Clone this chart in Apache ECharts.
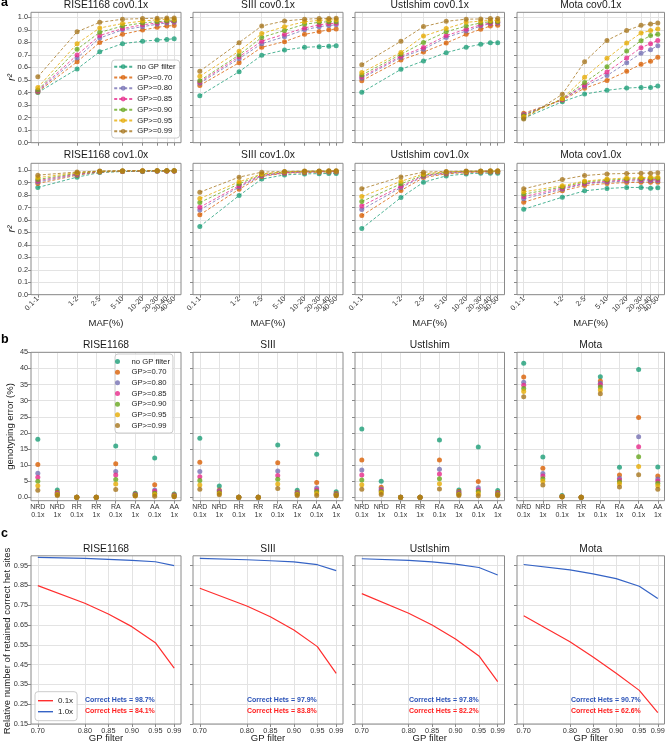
<!DOCTYPE html>
<html><head><meta charset="utf-8">
<script src="https://cdn.jsdelivr.net/npm/echarts@6/dist/echarts.min.js"></script>
<style>html,body{margin:0;padding:0;background:#fff}#c{width:667px;height:743px}</style>
</head><body><div id="c"></div>
<script>
const FONT = '"Liberation Sans", Arial, Helvetica, sans-serif';

// ---------- shared labels ----------
const samples = ['RISE1168', 'SIII', 'UstIshim', 'Mota'];
const filterLabels = ['no GP filter', 'GP>=0.70', 'GP>=0.80', 'GP>=0.85', 'GP>=0.90', 'GP>=0.95', 'GP>=0.99'];
const mafLabels = ['0.1-1', '1-2', '2-5', '5-10', '10-20', '20-30', '30-40', '40-50'];
const mafAxisPos = [0, 0.288, 0.454, 0.621, 0.768, 0.875, 0.946, 1.0];
const r2Ticks = [0, 0.1, 0.2, 0.3, 0.4, 0.5, 0.6, 0.7, 0.8, 0.9, 1.0];
const errCats = ['NRD 0.1x', 'NRD 1x', 'RR 0.1x', 'RR 1x', 'RA 0.1x', 'RA 1x', 'AA 0.1x', 'AA 1x'];
const errTicks = [0, 5, 10, 15, 20, 25, 30, 35, 40, 45];
const gpFilter = [0.70, 0.80, 0.85, 0.90, 0.95, 0.99];
const hetTicks = [0.15, 0.25, 0.35, 0.45, 0.55, 0.65, 0.75, 0.85, 0.95];

// ---------- panel a : r2 by MAF, rows = filters ----------
const r2_RISE1168_cov01 = [
  [0.400, 0.588, 0.726, 0.790, 0.809, 0.819, 0.824, 0.829],
  [0.405, 0.645, 0.800, 0.865, 0.898, 0.920, 0.930, 0.935],
  [0.410, 0.675, 0.835, 0.900, 0.925, 0.945, 0.955, 0.960],
  [0.415, 0.700, 0.855, 0.910, 0.940, 0.955, 0.965, 0.968],
  [0.420, 0.745, 0.880, 0.930, 0.955, 0.965, 0.970, 0.975],
  [0.440, 0.790, 0.915, 0.950, 0.970, 0.980, 0.985, 0.985],
  [0.525, 0.885, 0.960, 0.985, 0.990, 0.993, 0.995, 0.995]];
const r2_SIII_cov01 = [
  [0.375, 0.566, 0.697, 0.739, 0.761, 0.766, 0.769, 0.774],
  [0.457, 0.638, 0.761, 0.806, 0.864, 0.886, 0.900, 0.907],
  [0.475, 0.670, 0.790, 0.845, 0.900, 0.925, 0.935, 0.940],
  [0.485, 0.685, 0.810, 0.865, 0.915, 0.940, 0.950, 0.952],
  [0.495, 0.700, 0.840, 0.895, 0.945, 0.960, 0.965, 0.965],
  [0.530, 0.730, 0.870, 0.925, 0.965, 0.975, 0.980, 0.980],
  [0.570, 0.798, 0.931, 0.971, 0.985, 0.990, 0.990, 0.992]];
const r2_UstIshim_cov01 = [
  [0.402, 0.585, 0.652, 0.718, 0.761, 0.785, 0.798, 0.798],
  [0.495, 0.660, 0.723, 0.795, 0.864, 0.904, 0.931, 0.936],
  [0.515, 0.680, 0.745, 0.840, 0.890, 0.930, 0.950, 0.955],
  [0.525, 0.690, 0.760, 0.855, 0.905, 0.940, 0.955, 0.960],
  [0.540, 0.705, 0.800, 0.885, 0.930, 0.955, 0.965, 0.965],
  [0.560, 0.720, 0.850, 0.910, 0.960, 0.970, 0.975, 0.975],
  [0.622, 0.809, 0.926, 0.968, 0.985, 0.987, 0.990, 0.990]];
const r2_Mota_cov01 = [
  [0.195, 0.327, 0.388, 0.418, 0.436, 0.441, 0.441, 0.452],
  [0.235, 0.340, 0.434, 0.497, 0.569, 0.625, 0.649, 0.681],
  [0.225, 0.345, 0.450, 0.535, 0.638, 0.713, 0.742, 0.774],
  [0.220, 0.345, 0.460, 0.564, 0.676, 0.758, 0.790, 0.816],
  [0.215, 0.350, 0.480, 0.606, 0.731, 0.814, 0.854, 0.864],
  [0.205, 0.350, 0.521, 0.673, 0.795, 0.875, 0.894, 0.907],
  [0.190, 0.386, 0.646, 0.816, 0.894, 0.936, 0.947, 0.955]];
const r2_RISE1168_cov10 = [
  [0.861, 0.944, 0.981, 0.989, 0.990, 0.992, 0.993, 0.993],
  [0.893, 0.960, 0.985, 0.990, 0.991, 0.993, 0.993, 0.993],
  [0.905, 0.965, 0.987, 0.991, 0.992, 0.994, 0.994, 0.994],
  [0.915, 0.970, 0.988, 0.992, 0.993, 0.994, 0.994, 0.994],
  [0.925, 0.975, 0.990, 0.993, 0.994, 0.995, 0.995, 0.995],
  [0.940, 0.980, 0.991, 0.994, 0.995, 0.995, 0.995, 0.995],
  [0.960, 0.985, 0.993, 0.995, 0.996, 0.996, 0.996, 0.996]];
const r2_SIII_cov10 = [
  [0.547, 0.796, 0.928, 0.962, 0.970, 0.972, 0.973, 0.973],
  [0.641, 0.847, 0.950, 0.975, 0.980, 0.983, 0.985, 0.985],
  [0.681, 0.865, 0.955, 0.978, 0.985, 0.987, 0.988, 0.988],
  [0.702, 0.875, 0.960, 0.980, 0.987, 0.989, 0.990, 0.990],
  [0.740, 0.890, 0.965, 0.985, 0.990, 0.991, 0.992, 0.992],
  [0.772, 0.906, 0.970, 0.987, 0.991, 0.992, 0.993, 0.993],
  [0.823, 0.944, 0.984, 0.990, 0.993, 0.994, 0.995, 0.995]];
const r2_UstIshim_cov10 = [
  [0.531, 0.780, 0.903, 0.954, 0.970, 0.976, 0.976, 0.976],
  [0.635, 0.836, 0.940, 0.970, 0.980, 0.985, 0.985, 0.985],
  [0.684, 0.860, 0.950, 0.975, 0.985, 0.987, 0.988, 0.988],
  [0.713, 0.870, 0.955, 0.980, 0.988, 0.989, 0.990, 0.990],
  [0.748, 0.890, 0.960, 0.983, 0.990, 0.991, 0.992, 0.992],
  [0.788, 0.910, 0.970, 0.987, 0.990, 0.992, 0.993, 0.993],
  [0.850, 0.946, 0.984, 0.990, 0.993, 0.994, 0.995, 0.995]];
const r2_Mota_cov10 = [
  [0.686, 0.783, 0.834, 0.853, 0.861, 0.861, 0.855, 0.858],
  [0.743, 0.834, 0.877, 0.893, 0.900, 0.903, 0.903, 0.903],
  [0.770, 0.847, 0.890, 0.905, 0.912, 0.915, 0.915, 0.915],
  [0.788, 0.855, 0.895, 0.912, 0.920, 0.925, 0.925, 0.925],
  [0.807, 0.865, 0.905, 0.920, 0.928, 0.933, 0.935, 0.935],
  [0.826, 0.875, 0.912, 0.928, 0.937, 0.940, 0.943, 0.943],
  [0.850, 0.925, 0.957, 0.970, 0.973, 0.976, 0.976, 0.979]];

// ---------- panel b : genotyping error (%), rows = filters ----------
const err_RISE1168 = [
  [18.0, 2.3, 0.05, 0.02, 15.9, 1.3, 12.2, 1.0],
  [10.2, 1.6, 0.04, 0.02, 10.4, 1.0, 3.9, 0.8],
  [7.5, 1.3, 0.03, 0.01, 8.0, 0.85, 2.3, 0.6],
  [6.2, 1.1, 0.03, 0.01, 6.9, 0.75, 1.9, 0.5],
  [5.0, 0.9, 0.02, 0.01, 5.5, 0.65, 1.3, 0.4],
  [3.6, 0.8, 0.02, 0.01, 4.1, 0.5, 0.9, 0.3],
  [2.2, 0.6, 0.01, 0.0, 2.4, 0.4, 0.3, 0.2]];
const err_SIII = [
  [18.3, 3.5, 0.05, 0.02, 16.2, 2.2, 13.4, 1.7],
  [10.9, 2.3, 0.04, 0.02, 10.7, 1.6, 4.6, 1.2],
  [8.0, 2.0, 0.03, 0.01, 8.2, 1.4, 2.9, 1.0],
  [6.4, 1.7, 0.03, 0.01, 6.8, 1.2, 2.3, 0.9],
  [5.2, 1.4, 0.02, 0.01, 5.6, 1.0, 1.8, 0.8],
  [3.8, 1.1, 0.02, 0.01, 4.1, 0.8, 1.2, 0.6],
  [2.5, 0.8, 0.01, 0.0, 2.7, 0.6, 0.6, 0.5]];
const err_UstIshim = [
  [21.2, 5.0, 0.05, 0.02, 17.8, 2.3, 15.6, 2.1],
  [11.6, 3.1, 0.04, 0.02, 11.6, 1.8, 4.9, 1.5],
  [8.5, 2.6, 0.03, 0.01, 8.7, 1.5, 3.0, 1.2],
  [6.9, 2.2, 0.03, 0.01, 7.2, 1.2, 2.3, 1.0],
  [5.4, 1.8, 0.02, 0.01, 5.8, 1.0, 1.8, 0.9],
  [3.9, 1.4, 0.02, 0.01, 4.2, 0.8, 1.2, 0.7],
  [2.5, 0.9, 0.01, 0.0, 2.6, 0.6, 0.5, 0.6]];
const err_Mota = [
  [41.6, 12.5, 0.6, 0.05, 37.4, 9.3, 39.7, 9.4],
  [37.3, 9.0, 0.3, 0.04, 36.1, 6.9, 24.8, 6.6],
  [35.7, 7.4, 0.25, 0.03, 35.4, 5.9, 18.8, 5.7],
  [34.8, 6.6, 0.2, 0.03, 34.9, 5.4, 15.7, 5.1],
  [33.8, 5.8, 0.2, 0.02, 34.2, 4.8, 12.6, 4.4],
  [32.8, 5.0, 0.15, 0.02, 33.3, 4.2, 9.6, 3.6],
  [31.2, 3.8, 0.1, 0.01, 32.1, 3.2, 7.0, 2.5]];

// ---------- panel c : relative number of retained correct het sites ----------
const het01_RISE1168 = [0.849, 0.760, 0.706, 0.642, 0.561, 0.432];
const het10_RISE1168 = [0.992, 0.987, 0.982, 0.977, 0.970, 0.950];
const het01_SIII = [0.836, 0.746, 0.692, 0.625, 0.541, 0.406];
const het10_SIII = [0.987, 0.980, 0.975, 0.969, 0.955, 0.925];
const het01_UstIshim = [0.809, 0.710, 0.650, 0.580, 0.494, 0.364];
const het10_UstIshim = [0.985, 0.977, 0.969, 0.958, 0.941, 0.903];
const het01_Mota = [0.697, 0.566, 0.489, 0.406, 0.320, 0.207];
const het10_Mota = [0.956, 0.929, 0.909, 0.885, 0.846, 0.784];
const correctHets10 = ['98.7%', '97.9%', '97.8%', '90.7%'];
const correctHets01 = ['84.1%', '83.8%', '82.2%', '62.6%'];

const r2cov01 = [r2_RISE1168_cov01, r2_SIII_cov01, r2_UstIshim_cov01, r2_Mota_cov01];
const r2cov10 = [r2_RISE1168_cov10, r2_SIII_cov10, r2_UstIshim_cov10, r2_Mota_cov10];
const errAll = [err_RISE1168, err_SIII, err_UstIshim, err_Mota];
const het01 = [het01_RISE1168, het01_SIII, het01_UstIshim, het01_Mota];
const het10 = [het10_RISE1168, het10_SIII, het10_UstIshim, het10_Mota];

// ---------- style ----------
const colors = ['#1b9e77', '#d95f02', '#7570b3', '#e7298a', '#66a61e', '#e6ab02', '#a6761d'];
const RED = '#ff2e2e', BLUE = '#3563c5';
const colLeft = [31, 193, 355, 517];
const colWidth = [150, 150, 149.5, 147.5];
const GRIDC = '#e3e3e3', FRAMEC = '#8a8a8a', TXT = '#333';

const option = {animation: false, backgroundColor: '#fff', grid: [], xAxis: [], yAxis: [], series: [], legend: [], graphic: []};
const frames = [];

function valAxis(min, max, ticks, fmt, showLabel, extra) {
  return {
    type: 'value', min: min, max: max,
    axisLine: {show: false, onZero: false},
    axisTick: {show: true, customValues: ticks, length: 3, lineStyle: {color: FRAMEC, width: 1}},
    axisLabel: Object.assign({show: showLabel, customValues: ticks, formatter: fmt, fontSize: 7.3,
      color: TXT, fontFamily: FONT, margin: 3, hideOverlap: false, showMinLabel: true, showMaxLabel: true}, extra || {}),
    splitLine: {show: true, lineStyle: {color: GRIDC, width: 1}}
  };
}
function addGrid(col, top, height, xa, ya, noFrame) {
  const i = option.grid.length;
  option.grid.push({left: colLeft[col], top: top, width: colWidth[col], height: height, containLabel: false, outerBoundsMode: 'none'});
  option.xAxis.push(Object.assign({gridIndex: i}, xa));
  option.yAxis.push(Object.assign({gridIndex: i}, ya));
  if (!noFrame) frames.push({type: 'rect', silent: true, z: 50,
    shape: {x: colLeft[col], y: top, width: colWidth[col], height: height},
    style: {fill: 'none', stroke: FRAMEC, lineWidth: 1}});
  return i;
}
function txt(text, x, y, font, opts) {
  const o = opts || {};
  return {type: 'text', silent: true, z: 60, x: x, y: y, rotation: o.rot || 0,
    style: {text: text, font: font, fill: o.fill || '#1a1a1a',
      textAlign: o.align || 'center', align: o.align || 'center',
      textVerticalAlign: 'middle', verticalAlign: 'middle'}};
}
const mafFmt = function (v) {
  let b = 0;
  for (let i = 1; i < mafAxisPos.length; i++) if (Math.abs(mafAxisPos[i] - v) < Math.abs(mafAxisPos[b] - v)) b = i;
  return mafLabels[b];
};
const colCenter = colLeft.map((l, i) => l + colWidth[i] / 2);
const mafEven = mafAxisPos.filter((p, i) => i % 2 === 0);
const mafOdd = mafAxisPos.filter((p, i) => i % 2 === 1);

// ---------- panel a ----------
const rowsA = [
  {top: 12.3, height: 130.4, max: 1.04, data: r2cov01, cov: 'cov0.1x', titleY: 4.8, xlab: false},
  {top: 163.3, height: 131.4, max: 1.055, data: r2cov10, cov: 'cov1.0x', titleY: 155.5, xlab: true}];
rowsA.forEach(function (row) {
  samples.forEach(function (s, c) {
    const xa = valAxis(-0.05, 1.05, mafAxisPos, mafFmt, false);
    if (row.xlab) {
      xa.axisLabel = Object.assign({}, xa.axisLabel, {show: true, customValues: mafEven, rotate: 45});
    }
    const gi = addGrid(c, row.top, row.height, xa,
      valAxis(0, row.max, r2Ticks, v => v.toFixed(1), c === 0));
    if (row.xlab) {
      // overlay axis carrying the remaining (odd) category labels, so crowded labels all stay visible
      const xb = valAxis(-0.05, 1.05, mafOdd, mafFmt, true, {rotate: 45});
      xb.axisTick.show = false; xb.splitLine.show = false;
      const yb = valAxis(0, row.max, r2Ticks, v => '', false);
      yb.axisTick.show = false; yb.splitLine.show = false;
      addGrid(c, row.top, row.height, xb, yb, true);
    }
    row.data[c].forEach(function (vals, k) {
      option.series.push({type: 'line', name: filterLabels[k], xAxisIndex: gi, yAxisIndex: gi,
        data: vals.map((v, j) => [mafAxisPos[j], v]), symbol: 'circle', symbolSize: 5, z: 2 + k,
        lineStyle: {type: [3, 2], width: 1, color: colors[k], opacity: 0.78},
        itemStyle: {color: colors[k], opacity: 0.78}, silent: true});
    });
    option.graphic.push(txt(s + ' ' + row.cov, colCenter[c], row.titleY, '10.3px ' + FONT));
    if (row.xlab) option.graphic.push(txt('MAF(%)', colCenter[c], 323, '9.5px ' + FONT));
  });
  option.graphic.push(txt('r²', 12.5, row.top + row.height / 2, 'italic 10.5px ' + FONT, {rot: Math.PI / 2}));
});

// ---------- panel b ----------
samples.forEach(function (s, c) {
  const gi = addGrid(c, 352.3, 148.4,
    valAxis(-0.35, 7.35, [0, 1, 2, 3, 4, 5, 6, 7], v => errCats[Math.round(v)].replace(' ', '\n'), true, {lineHeight: 7.7, fontSize: 7}),
    valAxis(-1.05, 45, errTicks, v => (v === 0 ? '0.0' : String(v)), c === 0));
  errAll[c].forEach(function (vals, k) {
    option.series.push({type: 'scatter', name: 'b|' + filterLabels[k], xAxisIndex: gi, yAxisIndex: gi,
      data: vals.map((v, j) => [j, v]), symbol: 'circle', symbolSize: 5, z: 2 + k,
      itemStyle: {color: colors[k], opacity: 0.8}, silent: true});
  });
  option.graphic.push(txt(s, colCenter[c], 345, '10.3px ' + FONT));
});
option.graphic.push(txt('genotyping error (%)', 10, 426.5, '9.5px ' + FONT, {rot: Math.PI / 2}));

// ---------- panel c ----------
samples.forEach(function (s, c) {
  const gi = addGrid(c, 555.8, 168.2,
    valAxis(0.6855, 1.0045, gpFilter, v => v.toFixed(2), true),
    valAxis(0.15, 1.0, hetTicks, v => v.toFixed(2), c === 0));
  option.series.push({type: 'line', name: '0.1x', xAxisIndex: gi, yAxisIndex: gi, symbol: 'none',
    data: gpFilter.map((g, j) => [g, het01[c][j]]), lineStyle: {color: RED, width: 1.2}, itemStyle: {color: RED}, silent: true});
  option.series.push({type: 'line', name: '1.0x', xAxisIndex: gi, yAxisIndex: gi, symbol: 'none',
    data: gpFilter.map((g, j) => [g, het10[c][j]]), lineStyle: {color: BLUE, width: 1.2}, itemStyle: {color: BLUE}, silent: true});
  option.graphic.push(txt(s, colCenter[c], 549.5, '10.3px ' + FONT));
  option.graphic.push(txt('GP filter', colCenter[c], 738.5, '9.5px ' + FONT));
  option.graphic.push(txt('Correct Hets = ' + correctHets10[c], colLeft[c] + 54, 700.5, 'bold 7px ' + FONT, {align: 'left', fill: '#2a52b8'}));
  option.graphic.push(txt('Correct Hets = ' + correctHets01[c], colLeft[c] + 54, 711, 'bold 7px ' + FONT, {align: 'left', fill: '#ff2020'}));
});
option.graphic.push(txt('Relative number of retained correct het sites', 7.5, 641, '9.5px ' + FONT, {rot: Math.PI / 2}));

// panel letters
option.graphic.push(txt('a', 1, 2.5, 'bold 12.5px ' + FONT, {align: 'left', fill: '#000'}));
option.graphic.push(txt('b', 1, 340, 'bold 12.5px ' + FONT, {align: 'left', fill: '#000'}));
option.graphic.push(txt('c', 1, 534, 'bold 12.5px ' + FONT, {align: 'left', fill: '#000'}));

option.graphic = frames.concat(option.graphic);

// ---------- legends ----------
const legendBase = {orient: 'vertical', selectedMode: false, backgroundColor: 'rgba(255,255,255,0.85)',
  borderColor: '#cccccc', borderWidth: 1, borderRadius: 3, z: 70};
option.legend.push(Object.assign({}, legendBase, {left: 111.7, top: 60, itemWidth: 18, itemHeight: 6, itemGap: 1.77,
  padding: [2.2, 4, 2.2, 1.5], data: filterLabels,
  textStyle: {fontSize: 7.7, lineHeight: 9, color: '#222', fontFamily: FONT}}));
option.legend.push(Object.assign({}, legendBase, {left: 115, top: 354, itemWidth: 18, itemHeight: 5, itemGap: 1.67,
  padding: [3, 3, 3, 0], data: filterLabels.map(n => 'b|' + n), formatter: n => n.replace('b|', ''),
  textStyle: {fontSize: 7.7, lineHeight: 9, color: '#222', fontFamily: FONT}}));
option.legend.push(Object.assign({}, legendBase, {left: 35, top: 691.7, itemWidth: 15, itemHeight: 1.4, itemGap: 2,
  padding: [4.5, 4, 4.5, 3], data: [{name: '0.1x', icon: 'rect'}, {name: '1.0x', icon: 'rect'}],
  textStyle: {fontSize: 8, lineHeight: 9, color: '#222', fontFamily: FONT}}));

const chart = echarts.init(document.getElementById('c'), null, {renderer: 'canvas', width: 667, height: 743});
chart.setOption(option);
</script>
</body></html>
